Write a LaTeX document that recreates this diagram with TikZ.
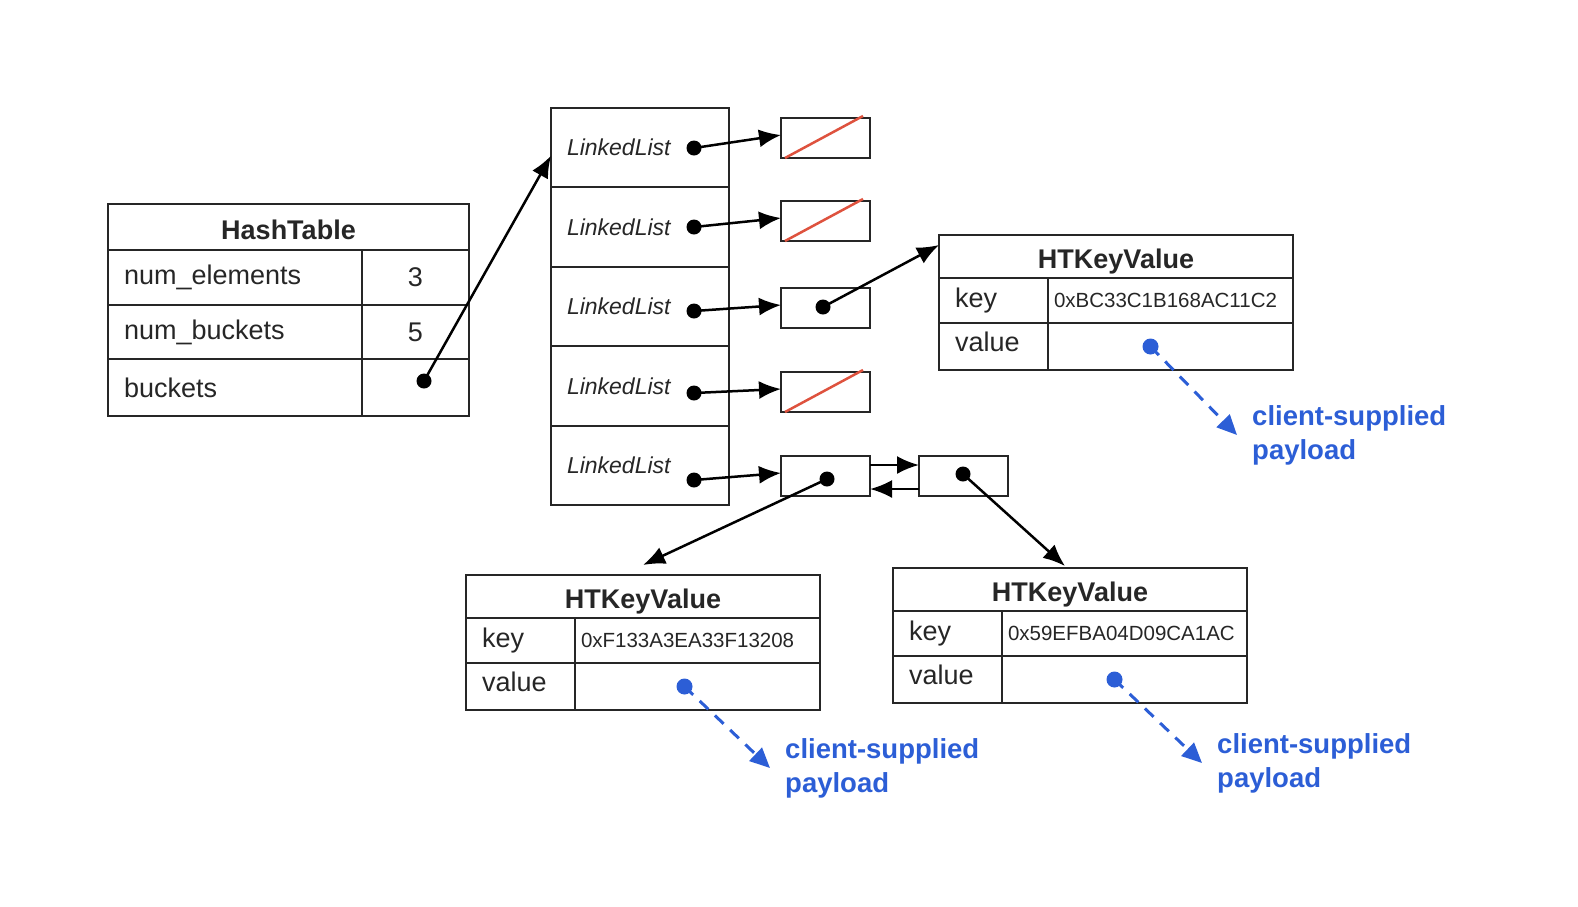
\documentclass[tikz,border=0pt]{standalone}
\usepackage{fontspec}
\setmainfont{Liberation Sans}
\usetikzlibrary{arrows.meta}
\definecolor{nullred}{RGB}{222,82,62}
\definecolor{payblue}{RGB}{44,94,214}

\begin{document}
\begin{tikzpicture}[x=1pt, y=-1pt, font=\fontsize{27}{32}\selectfont,
        cell/.style={draw=black!85, line width=2pt, outer sep=0pt, inner sep=0pt, anchor=north west, text=black!85},
        title/.style={cell, text height=30pt, text depth=6pt, font=\fontsize{27}{32}\selectfont\bfseries},
        lbl/.style={cell, align=left, inner xsep=16pt, text width=#1},
        vlbl/.style={lbl=#1, text depth=10pt},
        llcell/.style={lbl=146pt, minimum height=79.4pt, font=\fontsize{23}{28}\selectfont\itshape},
        hex/.style={cell, align=left, inner xsep=6pt, text width=233pt, font=\fontsize{20.5}{24}\selectfont},
        box/.style={cell, minimum width=89pt, minimum height=40pt},
        dot/.style={circle, fill=black, minimum size=15pt, inner sep=0pt},
        bluedot/.style={circle, fill=payblue, minimum size=16pt, inner sep=0pt},
        payload/.style={anchor=west, align=left, inner sep=0pt, text=payblue, font=\fontsize{27.5}{34}\selectfont\bfseries},
        ptr/.style={-{Latex[length=22pt,width=18pt]}, line width=2.5pt, black},
        payptr/.style={-{Triangle[length=20pt,width=18pt]}, dash pattern=on 12pt off 9pt, line width=3pt, payblue},
        nullslash/.style={line width=2.5pt, nullred}]
    \useasboundingbox (0,0) rectangle (1578,906);
    % hash table
    \node[title, minimum width=361pt, minimum height=46pt] (ht) at (108,204) {HashTable};
    \node[lbl=222pt, minimum height=55pt] (htelem) at (ht.south west) {num\_elements};
    \node[cell, minimum width=107pt, minimum height=55pt] (htelemv) at (htelem.north east) {3};
    \node[lbl=222pt, minimum height=54pt] (htbuck) at (htelem.south west) {num\_buckets};
    \node[cell, minimum width=107pt, minimum height=54pt] (htbuckv) at (htbuck.north east) {5};
    \node[lbl=222pt, minimum height=57pt] (htarr) at (htbuck.south west) {buckets};
    \node[cell, minimum width=107pt, minimum height=57pt] (htarrv) at (htarr.north east) {};
    \node[dot] (htdot) at (424,381) {};
    % bucket array
    \node[llcell] (ll1) at (551,108) {LinkedList};
    \node[llcell] (ll2) at (ll1.south west) {LinkedList};
    \node[llcell] (ll3) at (ll2.south west) {LinkedList};
    \node[llcell] (ll4) at (ll3.south west) {LinkedList};
    \node[llcell] (ll5) at (ll4.south west) {LinkedList};
    \node[dot] (lld1) at (694,148) {};
    \node[dot] (lld2) at (694,227) {};
    \node[dot] (lld3) at (694,311) {};
    \node[dot] (lld4) at (694,393) {};
    \node[dot] (lld5) at (694,480) {};
    % list nodes
    \node[box] (nb1) at (781,118) {};
    \node[box] (nb2) at (781,201) {};
    \node[box] (nb3) at (781,288) {};
    \node[box] (nb4) at (781,372) {};
    \node[box] (nb5) at (781,456) {};
    \node[box] (nb6) at (919,456) {};
    \node[dot] (nbd3) at (823,307) {};
    \node[dot] (nbd5) at (827,479) {};
    \node[dot] (nbd6) at (963,474) {};
    \draw[nullslash] ([xshift=4pt]nb1.south west) -- ([xshift=-7pt,yshift=2pt]nb1.north east);
    \draw[nullslash] ([xshift=4pt]nb2.south west) -- ([xshift=-7pt,yshift=2pt]nb2.north east);
    \draw[nullslash] ([xshift=4pt]nb4.south west) -- ([xshift=-7pt,yshift=2pt]nb4.north east);
    % key/value 1
    \node[title, minimum width=354pt, minimum height=43pt] (kv1) at (939,235) {HTKeyValue};
    \node[lbl=77pt, minimum height=45pt] (kv1key) at (kv1.south west) {key};
    \node[hex, minimum height=45pt] (kv1hex) at (kv1key.north east) {0xBC33C1B168AC11C2};
    \node[vlbl=77pt, minimum height=47pt] (kv1val) at (kv1key.south west) {value};
    \node[cell, minimum width=245pt, minimum height=47pt] (kv1ptr) at (kv1val.north east) {};
    \node[bluedot] (kv1dot) at ([xshift=-20pt]kv1ptr.center) {};
    \node[payload] (kv1pay) at (1252,435) {client-supplied\\payload};
    % key/value 2
    \node[title, minimum width=354pt, minimum height=43pt] (kv2) at (466,575) {HTKeyValue};
    \node[lbl=77pt, minimum height=45pt] (kv2key) at (kv2.south west) {key};
    \node[hex, minimum height=45pt] (kv2hex) at (kv2key.north east) {0xF133A3EA33F13208};
    \node[vlbl=77pt, minimum height=47pt] (kv2val) at (kv2key.south west) {value};
    \node[cell, minimum width=245pt, minimum height=47pt] (kv2ptr) at (kv2val.north east) {};
    \node[bluedot] (kv2dot) at ([xshift=-13pt]kv2ptr.center) {};
    \node[payload] (kv2pay) at (785,768) {client-supplied\\payload};
    % key/value 3
    \node[title, minimum width=354pt, minimum height=43pt] (kv3) at (893,568) {HTKeyValue};
    \node[lbl=77pt, minimum height=45pt] (kv3key) at (kv3.south west) {key};
    \node[hex, minimum height=45pt] (kv3hex) at (kv3key.north east) {0x59EFBA04D09CA1AC};
    \node[vlbl=77pt, minimum height=47pt] (kv3val) at (kv3key.south west) {value};
    \node[cell, minimum width=245pt, minimum height=47pt] (kv3ptr) at (kv3val.north east) {};
    \node[bluedot] (kv3dot) at ([xshift=-10pt]kv3ptr.center) {};
    \node[payload] (kv3pay) at (1217,763) {client-supplied\\payload};
    % pointers
    \draw[ptr] (htdot.center) -- ([yshift=-8pt]ll1.west);
    \draw[ptr] (lld1.center) -- ([yshift=3pt]nb1.west);
    \draw[ptr] (lld2.center) -- ([yshift=3pt]nb2.west);
    \draw[ptr] (lld3.center) -- ([yshift=3pt]nb3.west);
    \draw[ptr] (lld4.center) -- ([yshift=3pt]nb4.west);
    \draw[ptr] (lld5.center) -- ([yshift=3pt]nb5.west);
    \draw[ptr] ([yshift=11pt]nb5.east) -- ([yshift=11pt]nb6.west);
    \draw[ptr] ([yshift=-13pt]nb6.west) -- ([yshift=-13pt]nb5.east);
    \draw[ptr] (nbd3.center) -- ([yshift=-10pt]kv1.north west);
    \draw[ptr] (nbd5.center) -- ([yshift=10pt]kv2.north);
    \draw[ptr] (nbd6.center) -- ([xshift=-5pt,yshift=2pt]kv3.north);
    % payloads
    \draw[payptr] (kv1dot.center) -- ([xshift=-15pt]kv1pay.west);
    \draw[payptr] (kv2dot.center) -- ([xshift=-15pt]kv2pay.west);
    \draw[payptr] (kv3dot.center) -- ([xshift=-15pt]kv3pay.west);
\end{tikzpicture}
\end{document}
